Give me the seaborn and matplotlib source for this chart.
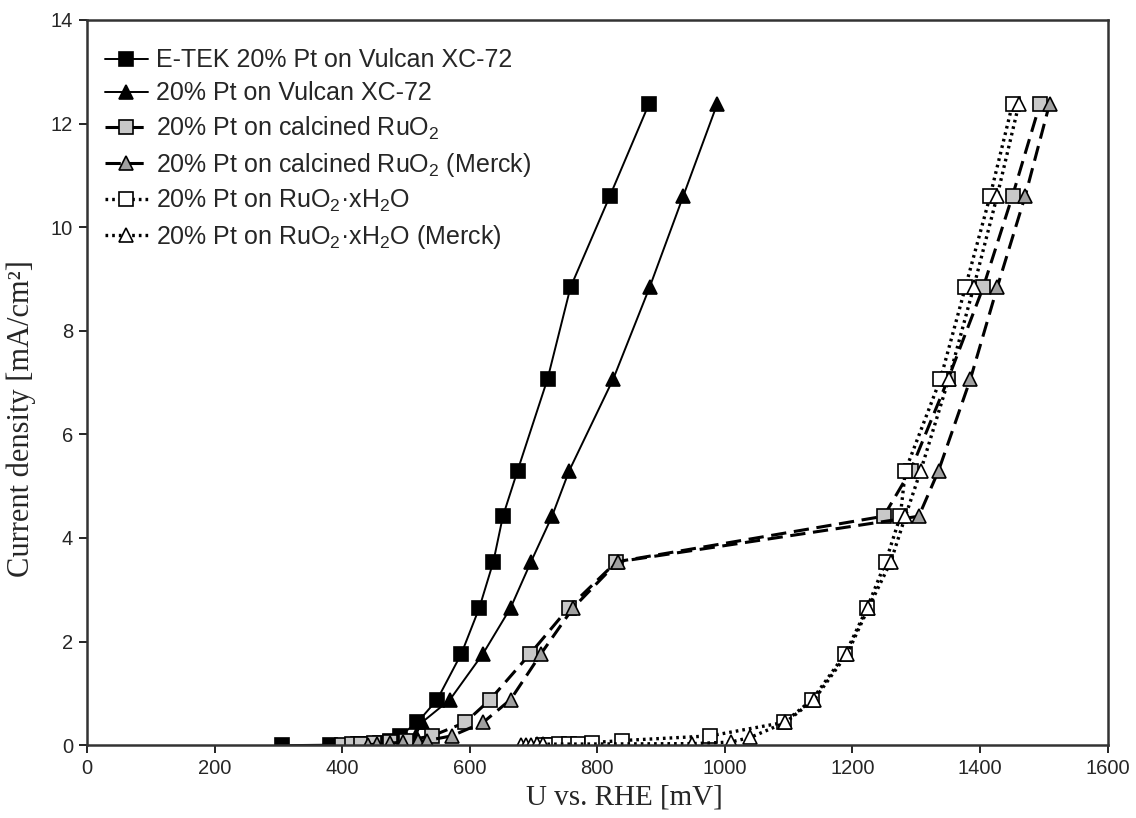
import matplotlib
matplotlib.use("Agg")
import matplotlib.pyplot as plt
import seaborn as sns

# ---------------- data (U vs RHE in mV, current density in mA/cm2) ----------------
etek_x = [305, 381, 425, 445, 460, 475, 490, 518, 549, 587, 615, 637, 652, 675, 722, 758, 820, 881]
etek_y = [0.0, 0.01, 0.02, 0.03, 0.04, 0.09, 0.18, 0.44, 0.88, 1.77, 2.65, 3.54, 4.42, 5.30, 7.07, 8.84, 10.61, 12.38]

vul_x = [450, 470, 490, 505, 515, 525, 569, 621, 664, 696, 729, 756, 825, 882, 935, 988]
vul_y = [0.01, 0.02, 0.04, 0.09, 0.18, 0.44, 0.88, 1.77, 2.65, 3.54, 4.42, 5.30, 7.07, 8.84, 10.61, 12.38]

calc_x = [400, 415, 430, 450, 475, 500, 541, 593, 632, 695, 755, 830, 1249, 1291, 1350, 1405, 1451, 1494]
calc_y = [0.01, 0.02, 0.03, 0.04, 0.06, 0.09, 0.18, 0.44, 0.88, 1.77, 2.65, 3.54, 4.42, 5.30, 7.07, 8.84, 10.61, 12.38]

calcm_x = [440, 455, 475, 496, 519, 533, 572, 621, 664, 712, 762, 832, 1304, 1335, 1385, 1427, 1471, 1509]
calcm_y = [0.01, 0.02, 0.04, 0.06, 0.08, 0.09, 0.18, 0.44, 0.88, 1.77, 2.65, 3.54, 4.42, 5.30, 7.07, 8.84, 10.61, 12.38]

hyd_x = [715, 725, 740, 755, 770, 792, 839, 977, 1093, 1137, 1189, 1223, 1252, 1275, 1283, 1338, 1377, 1416, 1451]
hyd_y = [0.005, 0.01, 0.015, 0.02, 0.03, 0.05, 0.09, 0.18, 0.44, 0.88, 1.77, 2.65, 3.54, 4.42, 5.30, 7.07, 8.84, 10.61, 12.38]

hydm_x = [680, 688, 696, 705, 715, 949, 1009, 1040, 1095, 1140, 1192, 1225, 1260, 1283, 1307, 1351, 1390, 1427, 1461]
hydm_y = [0.002, 0.005, 0.01, 0.015, 0.02, 0.03, 0.06, 0.15, 0.44, 0.88, 1.77, 2.65, 3.54, 4.42, 5.30, 7.07, 8.84, 10.61, 12.38]

labels = [
    "E-TEK 20% Pt on Vulcan XC-72",
    "20% Pt on Vulcan XC-72",
    "20% Pt on calcined RuO$_2$",
    "20% Pt on calcined RuO$_2$ (Merck)",
    "20% Pt on RuO$_2$·xH$_2$O",
    "20% Pt on RuO$_2$·xH$_2$O (Merck)",
]
x_ticks = [0, 200, 400, 600, 800, 1000, 1200, 1400, 1600]
y_ticks = [0, 2, 4, 6, 8, 10, 12, 14]

# ---------------- style ----------------
sns.set_theme(style="white")
plt.rcParams["font.family"] = ["Liberation Sans", "DejaVu Sans"]
plt.rcParams["mathtext.fontset"] = "custom"
plt.rcParams["mathtext.rm"] = "Liberation Sans"
plt.rcParams["mathtext.it"] = "Liberation Sans"
plt.rcParams["mathtext.default"] = "regular"

fig = plt.figure(figsize=(11.36, 8.18), dpi=100)
ax = fig.add_axes([0.0766, 0.089, 0.8984, 0.8866])

dash = (0, (5, 2.5))
dot = (0, (0.8, 1.2))
series = [
    (etek_x, etek_y, dict(marker="s", markerfacecolor="black", markersize=9.5, linestyle="-", linewidth=1.4)),
    (vul_x, vul_y, dict(marker="^", markerfacecolor="black", markersize=10.5, linestyle="-", linewidth=1.4)),
    (calc_x, calc_y, dict(marker="s", markerfacecolor="#c8c8c8", markersize=9.5, linestyle=dash, linewidth=2.2)),
    (calcm_x, calcm_y, dict(marker="^", markerfacecolor="#a0a0a0", markersize=10.5, linestyle=dash, linewidth=2.2)),
    (hyd_x, hyd_y, dict(marker="s", markerfacecolor="white", markersize=9.5, linestyle=dot, linewidth=2.4)),
    (hydm_x, hydm_y, dict(marker="^", markerfacecolor="white", markersize=10.5, linestyle=dot, linewidth=2.4)),
]

for (xs, ys, kw), lab in zip(series, labels):
    sns.lineplot(x=xs, y=ys, ax=ax, sort=False, estimator=None, color="black",
                 markeredgecolor="black", markeredgewidth=1.2, label=lab, **kw)

ax.set_xlim(0, 1600)
ax.set_ylim(0, 14)
ax.set_xticks(x_ticks)
ax.set_yticks(y_ticks)
ax.tick_params(axis="both", which="major", labelsize=14.5, direction="out",
               length=6, width=1.2, color="black", bottom=True, left=True, pad=4)
for s in ax.spines.values():
    s.set_color("#333333")
    s.set_linewidth(1.8)

serif = ["Liberation Serif", "DejaVu Serif"]
ax.set_xlabel("U vs. RHE [mV]", fontsize=21, family=serif)
ax.set_ylabel("Current density [mA/cm²]", fontsize=22, family=serif)
ax.xaxis.set_label_coords(0.527, -0.054)
ax.yaxis.set_label_coords(-0.05, 0.45)

leg = ax.legend(loc="upper left", frameon=False, fontsize=18, handlelength=1.75,
                handletextpad=0.3, labelspacing=0.36, borderaxespad=0.3,
                bbox_to_anchor=(0.0, 0.985))

fig.savefig("out.png", dpi=100)
